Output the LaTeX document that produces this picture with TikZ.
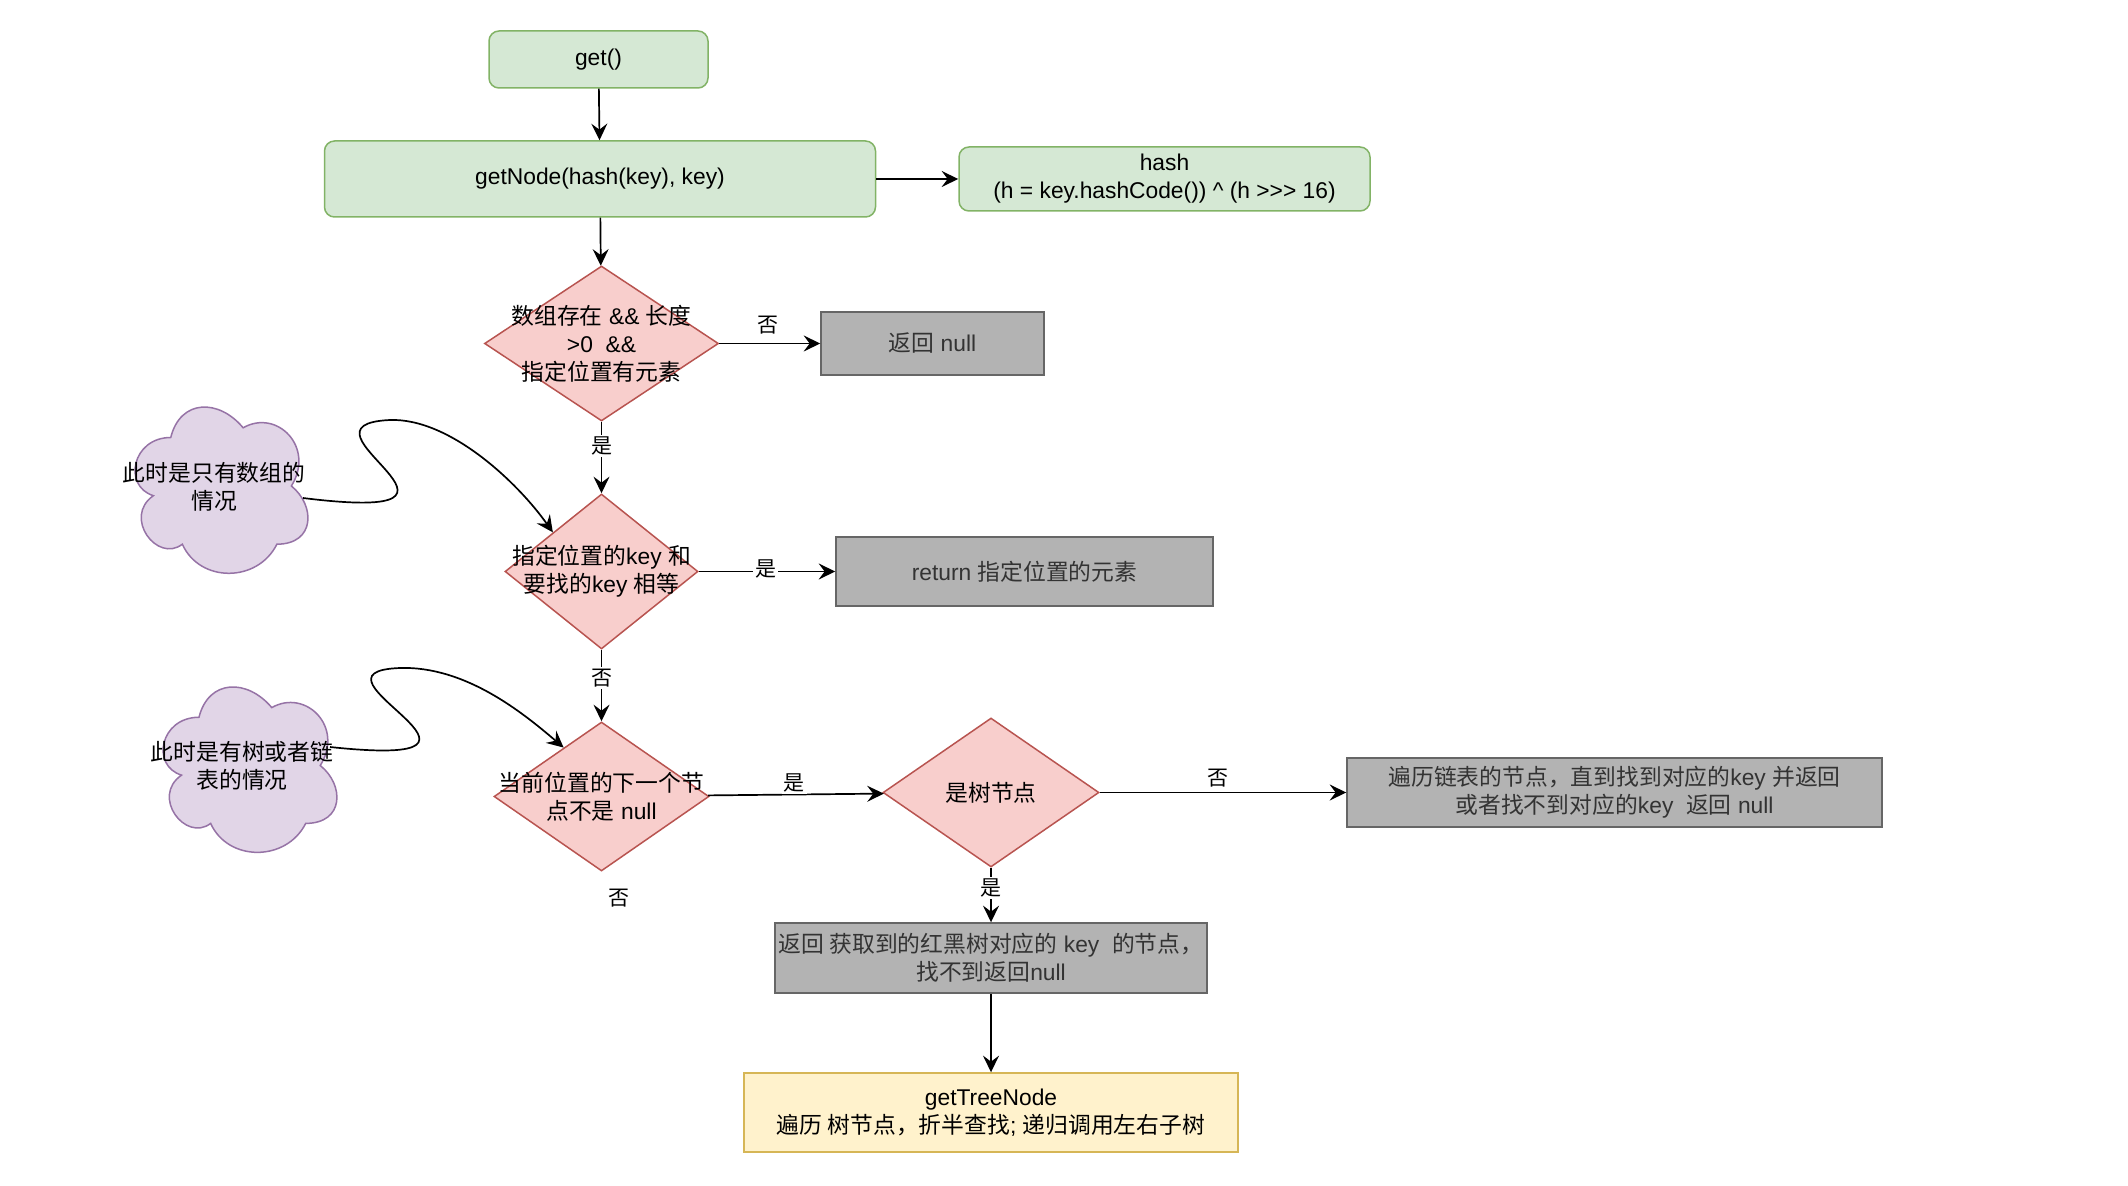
\documentclass[tikz,border=0pt]{standalone}
\usepackage{fontspec}
\setmainfont{Liberation Sans}
\newfontfamily\cjk{Noto Sans CJK SC}
\newcommand\zh[1]{{\cjk #1}}
\usetikzlibrary{shapes.geometric,arrows.meta,calc}
\definecolor{gfill}{HTML}{D5E8D4}
\definecolor{gdraw}{HTML}{82B366}
\definecolor{rfill}{HTML}{F8CECC}
\definecolor{rdraw}{HTML}{B85450}
\definecolor{kfill}{HTML}{B3B3B3}
\definecolor{kdraw}{HTML}{666666}
\definecolor{ktext}{HTML}{333333}
\definecolor{cfill}{HTML}{E1D5E7}
\definecolor{cdraw}{HTML}{9673A6}
\definecolor{yfill}{HTML}{FFF2CC}
\definecolor{ydraw}{HTML}{D6B656}
\begin{document}
\begin{tikzpicture}[x=0.5pt,y=-0.5pt,
  base/.style={font=\fontsize{11.4}{14}\selectfont, align=center, line width=0.75pt, inner sep=1pt},
  greenbox/.style={base, draw=gdraw, fill=gfill, rounded corners=5pt},
  greybox/.style={base, draw=kdraw, fill=kfill, text=ktext},
  yellowbox/.style={base, draw=ydraw, fill=yfill},
  decision/.style={diamond, draw=rdraw, fill=rfill, line width=0.75pt, inner sep=0pt},
  dtext/.style={font=\fontsize{11.4}{14}\selectfont, align=center},
  arr/.style={line width=0.85pt, -{Stealth[length=8.3pt,width=8pt,inset=3pt]}},
  elabel/.style={font=\fontsize{10.5}{12}\selectfont, fill=white, inner sep=1pt},
  cloudstyle/.style={draw=cdraw, fill=cfill, line width=0.75pt},
  cloudtext/.style={font=\fontsize{11.4}{14}\selectfont, align=center, inner sep=0pt}
]
\useasboundingbox (0,0) rectangle (2128,1186);

% clouds
\begin{scope}[shift={(122.5,389)}, xscale=193, yscale=194]
\draw[cloudstyle] (0.25,0.25) .. controls (0.05,0.25) and (0,0.5) .. (0.16,0.55)
  .. controls (0,0.66) and (0.18,0.9) .. (0.31,0.8)
  .. controls (0.4,1) and (0.7,1) .. (0.8,0.8)
  .. controls (1,0.8) and (1,0.6) .. (0.875,0.5)
  .. controls (1,0.3) and (0.8,0.1) .. (0.625,0.2)
  .. controls (0.5,0.05) and (0.3,0.05) .. (0.25,0.25) -- cycle;
\end{scope}
\begin{scope}[shift={(150.5,669)}, xscale=194, yscale=193]
\draw[cloudstyle] (0.25,0.25) .. controls (0.05,0.25) and (0,0.5) .. (0.16,0.55)
  .. controls (0,0.66) and (0.18,0.9) .. (0.31,0.8)
  .. controls (0.4,1) and (0.7,1) .. (0.8,0.8)
  .. controls (1,0.8) and (1,0.6) .. (0.875,0.5)
  .. controls (1,0.3) and (0.8,0.1) .. (0.625,0.2)
  .. controls (0.5,0.05) and (0.3,0.05) .. (0.25,0.25) -- cycle;
\end{scope}
\node[cloudtext] (c1t) at (214,487) {\zh{此时是只有数组的}\\\zh{情况}};
\node[cloudtext] (c2t) at (242,766) {\zh{此时是有树或者链}\\\zh{表的情况}};

% boxes
\node[greenbox, minimum width=109.5pt, minimum height=28.5pt] (get) at (598.5,59.5) {get()};
\node[greenbox, minimum width=275.5pt, minimum height=38pt] (getnode) at (600,179) {getNode(hash(key), key)};
\node[greenbox, minimum width=205.5pt, minimum height=32pt] (hash) at (1164.5,179) {hash\\(h = key.hashCode()) \textasciicircum{} (h >{}>{}> 16)};

\node[decision, minimum width=117pt, minimum height=77.5pt,
  label={[dtext]center:{\zh{数组存在} \&\& \zh{长度}\\>0\ \ \&\&\\\zh{指定位置有元素}}}] (d1) at (601.5,343.5) {};
\node[greybox, minimum width=111.5pt, minimum height=31.5pt] (null) at (932.5,343.5) {\zh{返回} null};

\node[decision, minimum width=96.5pt, minimum height=77.5pt,
  label={[dtext]center:{\zh{指定位置的}key \zh{和}\\\zh{要找的}key \zh{相等}}}] (d2) at (601.5,571.5) {};
\node[greybox, minimum width=188.5pt, minimum height=34.5pt] (ret) at (1024.5,571.5) {return \zh{指定位置的元素}};

\node[decision, minimum width=107.5pt, minimum height=74.5pt,
  label={[dtext]center:{\zh{当前位置的下一个节}\\\zh{点不是} null}}] (d3) at (601.5,796.5) {};
\node[decision, minimum width=108pt, minimum height=74.5pt,
  label={[dtext]center:{\zh{是树节点}}}] (tree) at (991,792.5) {};
\node[greybox, minimum width=267.5pt, minimum height=34.5pt] (trav) at (1614.5,792.5)
  {\zh{遍历链表的节点，直到找到对应的}key \zh{并返回}\\\zh{或者找不到对应的}key\ \ \zh{返回} null};
\node[greybox, minimum width=216pt, minimum height=35pt] (rbt) at (991,958)
  {\zh{返回 获取到的红黑树对应的} key\ \ \zh{的节点，}\\\zh{找不到返回}null};
\node[yellowbox, minimum width=247pt, minimum height=39.5pt] (gtn) at (991,1112.5)
  {getTreeNode\\\zh{遍历 树节点，折半查找}; \zh{递归调用左右子树}};

\node[elabel, fill=none] (no3) at (619,898) {\zh{否}};

% connectors
\draw[arr] (get) -- (getnode);
\draw[arr] (getnode) -- (hash);
\draw[arr] (getnode) -- (d1);
\draw[arr] (d1) -- node[elabel, pos=0.48, yshift=9pt] {\zh{否}} (null);
\draw[arr] (d1) -- node[elabel, pos=0.34] {\zh{是}} (d2);
\draw[arr] (d2) -- node[elabel, pos=0.49, yshift=1.5pt] {\zh{是}} (ret);
\draw[arr] (d2) -- node[elabel, pos=0.4] {\zh{否}} (d3);
\draw[arr] (d3) -- node[elabel, pos=0.49, yshift=6pt] {\zh{是}} (tree);
\draw[arr] (tree) -- node[elabel, pos=0.48, yshift=7pt] {\zh{否}} (trav);
\draw[arr] (tree) -- node[elabel, pos=0.375] {\zh{是}} (rbt);
\draw[arr] (rbt) -- (gtn);

% curved connectors from clouds
\coordinate (s1) at (303,498);
\coordinate (s2) at (330,747);
\coordinate (e2) at ($(d3.north)!0.35!(d3.west)$);
\draw[arr] (s1) .. controls (520,525) and (280,425) .. (390,420)
  .. controls (450,418) and (518,483) .. (d2.north west);
\draw[arr] (s2) .. controls (545,770) and (290,672) .. (400,668)
  .. controls (465,666) and (522,712) .. (e2);
\end{tikzpicture}
\end{document}
